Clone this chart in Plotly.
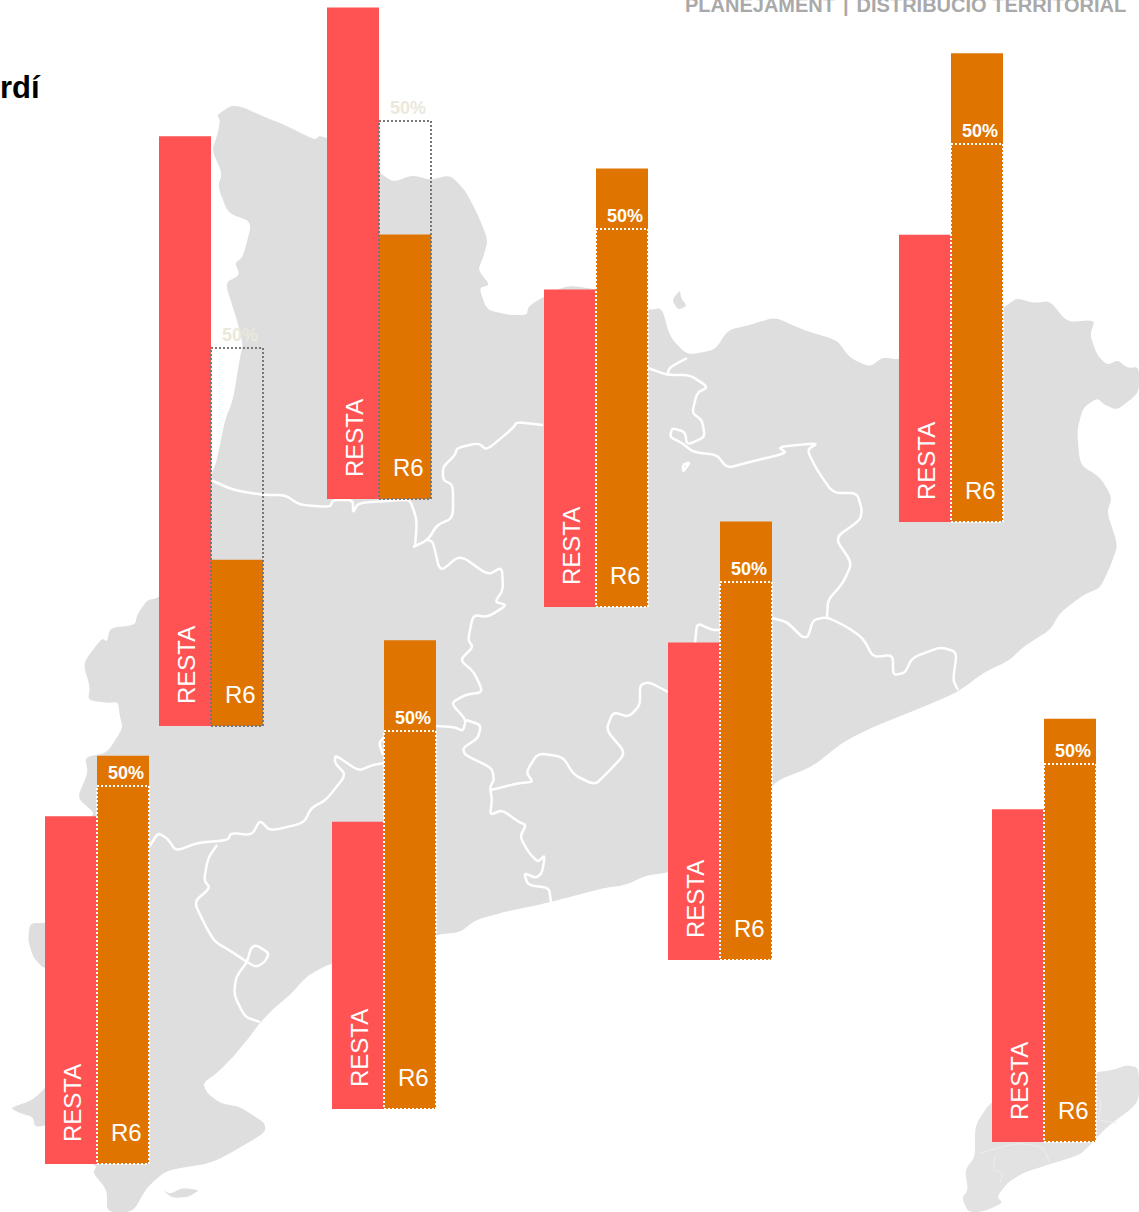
import plotly.graph_objects as go

# ---------- chart data (percent of the total per territory) ----------
RESTA_LABEL = "RESTA"
R6_LABEL = "R6"
TARGET_LABEL = "50%"
resta_share = [78, 65, 42, 38, 42, 38, 46, 44]
r6_share = [22, 35, 58, 62, 58, 62, 54, 56]
target_share = [50, 50, 50, 50, 50, 50, 50, 50]

# ---------- placement of each small chart on the map (pixels) ----------
group_left = [159, 327, 544, 899, 668, 332, 45, 992]
group_base = [726, 499, 607, 522, 960, 1109, 1164, 1142]
BAR_W = 52
PX_PER_PCT = 7.56
W, H = 1139, 1212

RED = "#ff5252"
ORANGE = "#e07400"
MAP = "#dedede"
INSET = "#e2e2e2"

# ---------- backdrop map outlines (pixels) ----------
map_main = [
    (217,115),(220,120),(218,133),(212,150),(222,173),(218,187),(228,213),(252,222),(243,257),(235,263),
    (240,275),(225,283),(237,320),(243,345),(240,357),(233,400),(225,420),(217,460),(212,473),(200,540),
    (159,598),(147,600),(137,615),(135,625),(110,628),(107,642),(102,638),(83,663),(90,687),(88,700),
    (107,703),(118,702),(120,717),(123,728),(107,753),(85,757),(88,773),(77,798),(97,815),(60,830),
    (60,1150),(97,1165),(93,1173),(107,1190),(107,1212),(133,1212),(147,1187),(167,1170),(213,1163),(265,1133),
    (265,1123),(240,1107),(220,1103),(207,1093),(203,1083),(217,1073),(233,1057),(247,1040),(260,1023),(272,1010),
    (290,995),(308,975),(332,963),(436,935),(460,932),(476,920),(504,912),(547,903),(604,888),(626,885),
    (647,875),(668,873),(720,850),(773,782),(812,767),(843,742),(873,727),(923,707),(958,692),(983,673),
    (1010,660),(1023,647),(1050,630),(1060,613),(1083,595),(1100,588),(1110,567),(1118,545),(1107,513),(1112,497),
    (1100,477),(1080,465),(1077,430),(1083,408),(1097,398),(1105,405),(1117,410),(1139,393),(1139,367),(1127,368),
    (1118,360),(1107,365),(1097,355),(1090,335),(1095,320),(1067,322),(1050,301),(1033,303),(1017,298),(1003,308),
    (950,330),(899,360),(883,357),(870,367),(850,358),(837,340),(803,330),(775,317),(750,325),(728,330),
    (715,350),(687,355),(670,337),(662,308),(648,310),(600,290),(567,285),(538,300),(528,307),(527,315),
    (510,315),(487,310),(479,288),(490,285),(478,270),(483,258),(488,240),(478,215),(465,190),(450,175),
    (430,180),(413,175),(393,182),(380,173),(355,150),(320,135),(315,140),(285,125),(262,116),(245,108),(232,105),
]
map_bits = [
    [(30,923),(50,923),(50,968),(43,968),(33,957),(28,940)],
    [(50,1083),(33,1100),(10,1108),(20,1113),(33,1117),(35,1127),(50,1125)],
    [(672,300),(680,290),(681,298),(687,306),(678,310)],
    [(163,1190),(172,1198),(188,1197),(200,1190),(182,1188),(170,1194)],
]
map_inset = [
    (1097,1072),(1113,1070),(1127,1065),(1139,1068),(1139,1103),(1107,1127),(1093,1142),(1080,1155),(1047,1165),(1023,1173),
    (1007,1183),(997,1197),(1003,1203),(983,1212),(968,1212),(962,1198),(968,1190),(965,1170),(975,1157),(975,1125),
    (992,1100),(1040,1090),
]
borders = [
    [(211,480),(233,490),(263,495),(285,495),(300,505),(330,507),(333,500),(353,500),(353,513),(358,503),(400,500),(410,500),(417,520),(415,547)],
    [(543,425),(517,422),(513,428),(487,450),(478,443),(457,448),(455,455),(443,467),(443,480),(453,485),(453,518),(437,525),(428,540),(413,547)],
    [(428,540),(433,542),(440,572),(460,555),(488,575),(502,567),(503,590),(495,602),(507,605),(488,617),(473,615),(468,640),(473,647),(460,660),(474,672),(483,692),(465,695),(451,703),(466,720),(463,731),(454,727),(436,726)],
    [(466,720),(481,725),(478,738),(463,748),(465,755),(492,768),(494,780),(490,787),(492,800),(490,815),(502,810),(519,822),(526,825),(520,837),(529,853),(538,862),(545,855),(542,873),(536,878),(524,873),(528,885),(549,888),(551,902)],
    [(491,790),(519,783),(533,782),(526,772),(538,753),(563,757),(574,775),(595,785),(608,772),(626,753),(606,730),(613,712),(629,717),(640,705),(640,685),(649,682),(668,692)],
    [(149,847),(158,833),(167,838),(176,851),(197,843),(228,840),(231,833),(252,835),(260,820),(270,831),(304,823),(311,808),(326,800),(346,775),(335,763),(335,755),(359,771),(372,765),(384,763)],
    [(217,845),(208,858),(204,880),(210,888),(194,902),(206,927),(215,942),(229,950),(247,962),(256,967),(265,962),(269,953),(256,945),(251,948),(247,962),(236,977),(234,995),(245,1017),(260,1022)],
    [(384,737),(379,743),(383,755)],
    [(695,643),(697,623),(712,630),(720,630)],
    [(772,618),(787,622),(802,637),(808,637),(813,620),(827,617),(847,627),(863,638),(873,657),(893,655),(893,675),(905,673),(912,658),(940,647),(957,652),(953,680),(958,690)],
    [(827,617),(828,600),(843,583),(852,563),(835,538),(860,520),(862,510),(857,493),(833,493),(817,470),(807,450),(818,443),(778,447),(787,453),(750,462),(727,468),(717,455),(693,452),(682,443),(670,437),(672,428),(685,432),(687,445),(705,437),(702,420),(692,413),(697,393),(708,387),(690,375),(667,375),(648,368)],
    [(667,375),(670,367),(687,358)],
    [(683,465),(683,472),(690,462),(683,465)],
]
inset_borders = [
    [(980,1153),(1017,1143),(1043,1147),(1050,1163)],
    [(995,1157),(993,1170),(1003,1173),(1000,1183)],
    [(1097,1097),(1102,1103),(1097,1120),(1117,1123)],
]


def path(points, close=True):
    """SVG path with softly rounded corners, for the organic look of the map."""
    count = len(points)
    def lerp(a, b, t):
        return (a[0] + (b[0] - a[0]) * t, a[1] + (b[1] - a[1]) * t)
    if close:
        start = lerp(points[-1], points[0], 0.7)
        text = f"M {start[0]:.1f},{start[1]:.1f}"
        for i in range(count):
            here, after = points[i], points[(i + 1) % count]
            out = lerp(here, after, 0.3)
            back = lerp(here, after, 0.7)
            text += f" Q {here[0]},{here[1]} {out[0]:.1f},{out[1]:.1f} L {back[0]:.1f},{back[1]:.1f}"
        return text + " Z"
    text = f"M {points[0][0]},{points[0][1]}"
    for i in range(1, count - 1):
        before, here, after = points[i - 1], points[i], points[i + 1]
        into = lerp(here, before, 0.3)
        out = lerp(here, after, 0.3)
        text += f" L {into[0]:.1f},{into[1]:.1f} Q {here[0]},{here[1]} {out[0]:.1f},{out[1]:.1f}"
    return text + f" L {points[-1][0]},{points[-1][1]}"


shapes = []
for poly, colour in [(map_main, MAP)] + [(p, MAP) for p in map_bits] + [(map_inset, INSET)]:
    shapes.append(dict(type="path", path=path(poly), fillcolor=colour, line_width=0, layer="below", xref="x", yref="y"))
for line in borders:
    shapes.append(dict(type="path", path=path(line, False), line=dict(color="#ffffff", width=2.5), layer="below", xref="x", yref="y"))
for line in inset_borders:
    shapes.append(dict(type="path", path=path(line, False), line=dict(color="#eeeeee", width=1), layer="below", xref="x", yref="y"))

fig = go.Figure()
fig.add_trace(go.Bar(
    x=[g + BAR_W / 2 for g in group_left], y=[-v * PX_PER_PCT for v in resta_share], base=group_base,
    width=BAR_W, marker=dict(color=RED, line_width=0), name=RESTA_LABEL, hoverinfo="skip",
))
fig.add_trace(go.Bar(
    x=[g + BAR_W * 1.5 for g in group_left], y=[-v * PX_PER_PCT for v in r6_share], base=group_base,
    width=BAR_W, marker=dict(color=ORANGE, line_width=0), name=R6_LABEL, hoverinfo="skip",
))

annotations = []
for g, b, r6, target in zip(group_left, group_base, r6_share, target_share):
    left, right = g + BAR_W, g + 2 * BAR_W
    top = b - target * PX_PER_PCT
    reached = r6 >= target
    fig.add_trace(go.Scatter(
        x=[left, right, right, left, left], y=[top, top, b, b, top], mode="lines",
        line=dict(color="#ffffff" if reached else "#777777", width=2, dash="2px,2px"),
        hoverinfo="skip", showlegend=False,
    ))
    annotations.append(dict(x=g + 27.5, y=b - 60.5, text=RESTA_LABEL, textangle=-90, showarrow=False,
                            font=dict(family="Liberation Sans", size=24, color="#ffffff")))
    annotations.append(dict(x=left + 29, y=b - 32, text=R6_LABEL, showarrow=False,
                            font=dict(family="Liberation Sans", size=24, color="#ffffff")))
    annotations.append(dict(x=left + 28.5, y=top - 13, text=f"<b>{TARGET_LABEL}</b>", showarrow=False,
                            font=dict(family="Liberation Sans", size=18, color="#ffffff" if reached else "#ebe8dc")))

annotations.append(dict(x=1128, y=4, xanchor="right", text="<b>PLANEJAMENT\u2009\u2009|\u2009\u2009DISTRIBUCIÓ TERRITORIAL</b>",
                        showarrow=False, font=dict(family="Liberation Sans", size=20, color="#a9a9a9")))
annotations.append(dict(x=43, y=87, xanchor="right", text="<b>rdí</b>", showarrow=False,
                        font=dict(family="Liberation Sans", size=31, color="#000000")))
for a in annotations:
    a.update(xref="x", yref="y")

fig.update_layout(
    width=W, height=H, margin=dict(l=0, r=0, t=0, b=0), barmode="overlay", showlegend=False,
    paper_bgcolor="#ffffff", plot_bgcolor="rgba(0,0,0,0)", shapes=shapes, annotations=annotations,
    xaxis=dict(range=[0, W], visible=False, fixedrange=True),
    yaxis=dict(range=[H, 0], visible=False, fixedrange=True),
)
fig.write_html("out.html", config={"displayModeBar": False},
               post_script="document.body.style.margin='0';")
